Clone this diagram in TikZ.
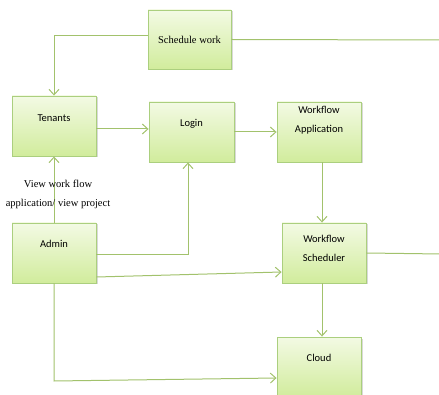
\documentclass[tikz,border=0pt]{standalone}
\usepackage{fontspec}
\setmainfont{Liberation Serif}
\newfontfamily\boxfont{Carlito}
\usepackage{tikz}
\usetikzlibrary{positioning,arrows.meta,shadows}
\definecolor{boxtop}{HTML}{F3FAE4}
\definecolor{boxbot}{HTML}{D1EC9C}
\definecolor{boxline}{HTML}{ABCF7E}
\definecolor{flow}{HTML}{A2C26C}

\begin{document}
\begin{tikzpicture}[x=1pt,y=-1pt,font=\fontsize{10.5}{12}\selectfont]
  \tikzset{
    box/.style={draw=boxline, line width=0.9pt, top color=boxtop, bottom color=boxbot,
      minimum width=84pt, minimum height=60pt, inner sep=0pt,
      drop shadow={shadow xshift=1.5pt, shadow yshift=-1.5pt, opacity=0.3}},
    boxtext/.style={font=\boxfont\fontsize{10.5}{19}\selectfont, align=center},
    flowline/.style={draw=flow, line width=1pt, -{Straight Barb[length=5.5pt,width=10pt]}},
    flowplain/.style={draw=flow, line width=1pt}
  }
  \useasboundingbox (0,0) rectangle (439,395);
  \clip (0,0) rectangle (439,395);
  % boxes
  \node[box, minimum width=83pt, minimum height=59pt] (sched) at (189.5,39.5) {Schedule work};
  \node[box, label={[boxtext,yshift=8pt]center:Tenants}] (tenants) at (54,126) {};
  \node[box, minimum width=85pt, label={[boxtext,yshift=8pt]center:Login}] (login) at (191.5,132) {};
  \node[box, label={[boxtext,yshift=11.5pt]center:Workflow\\Application}] (wfapp) at (319,132) {};
  \node[box, label={[boxtext,yshift=9pt]center:Admin}] (admin) at (54,253) {};
  \node[box, label={[boxtext,yshift=4.5pt]center:Workflow\\Scheduler}] (wfsched) at (324,253) {};
  \node[box, label={[boxtext,yshift=9pt]center:Cloud}] (cloud) at (319,367) {};
  % loose ends
  \coordinate (schedout) at (441,40);
  \coordinate (wfschedout) at (441,254);
  \coordinate (adminbend) at (54,381);
  % connectors
  \draw[flowline] ([yshift=4pt]sched.west) -| (tenants.north);
  \draw[flowplain] (sched.east) -- (schedout);
  \draw[flowline] ([yshift=-3pt]tenants.east) -- ([yshift=3pt]login.west);
  \draw[flowline] (login.east) -- (wfapp.west);
  \draw[flowline] ([xshift=3pt]wfapp.south) -- ([xshift=-2pt]wfsched.north);
  \draw[flowline] ([xshift=-2pt]wfsched.south) -- ([xshift=3pt]cloud.north);
  \draw[flowplain] (wfsched.east) -- (wfschedout);
  \draw[flowline] (admin.north) -- node[align=center, font=\fontsize{10.5}{19}\selectfont,
    xshift=4pt, yshift=-5pt] {View work flow\\application/ view project} (tenants.south);
  \draw[flowline] ([yshift=-2pt]admin.east) -| ([xshift=-3.5pt]login.south);
  \draw[flowline] ([yshift=-24pt]admin.east) -- ([yshift=-19pt]wfsched.west);
  \draw[flowline] (admin.south) -- (adminbend) -- ([yshift=-11pt]cloud.west);
\end{tikzpicture}
\end{document}
